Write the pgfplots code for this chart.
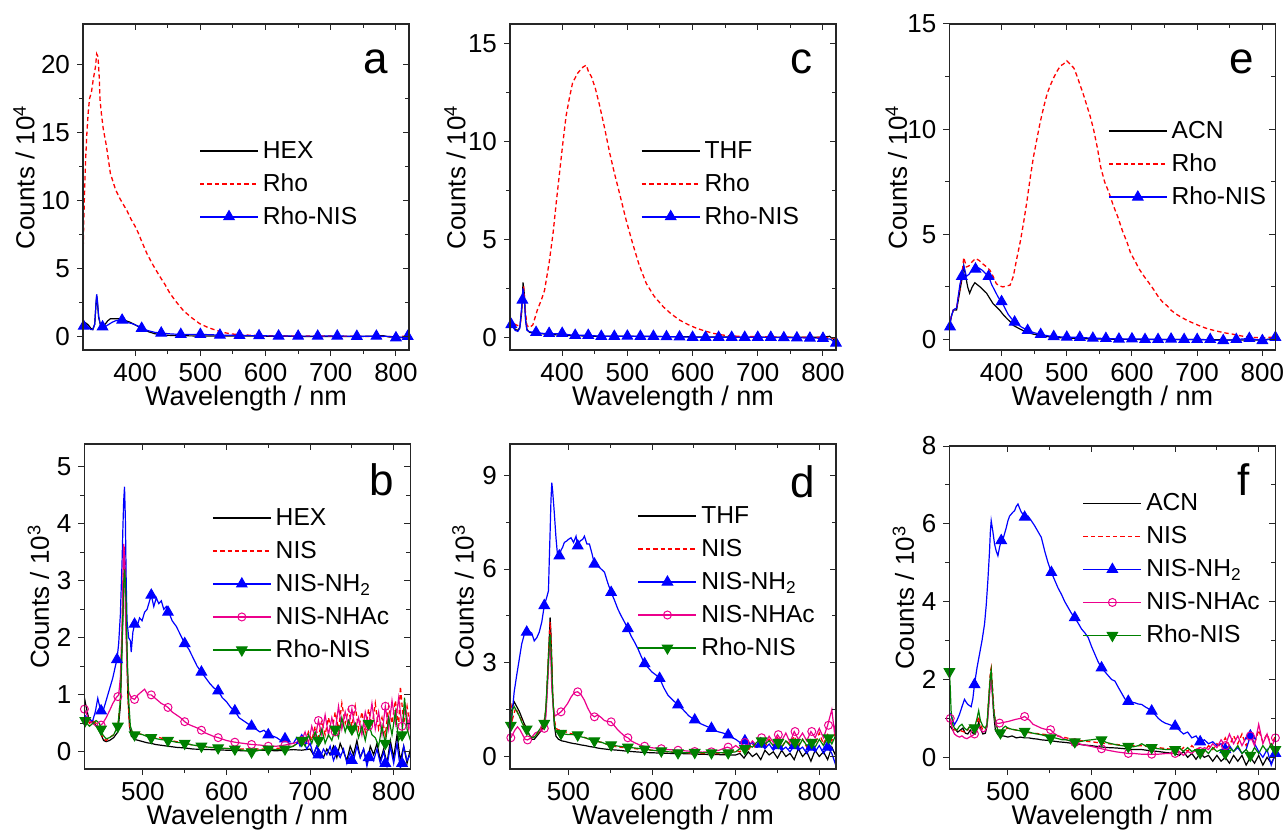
\documentclass[border=0pt]{standalone}
\usepackage{fontspec}
\setmainfont{Liberation Sans}
\usepackage{pgfplots}
\pgfplotsset{compat=1.18}
\definecolor{mygreen}{RGB}{0,128,0}
\pgfplotsset{
  base/.style={scale only axis, clip=true,
    axis line style={black!85, line width=0.6pt},
    tick style={black!85, line width=0.5pt},
    major tick length=3pt, minor tick length=2pt,
    tick align=outside, xtick pos=left, ytick pos=left,
    minor x tick num=1, minor y tick num=1,
    xtick={400,500,600,700,800},
    tick label style={font=\fontsize{13}{13}\selectfont},
    /pgf/number format/assume math mode=true,
    xlabel={Wavelength / nm},
    every axis x label/.style={at={(rel axis cs:0.5,0)}, anchor=center, yshift=-24.5pt, font=\fontsize{13.5}{13.5}\selectfont},
    legend cell align=left,
    legend style={draw=none, fill=none, inner sep=0pt, row sep=6pt,
      font=\fontsize{12.3}{12.3}\selectfont,
      nodes={inner xsep=2pt, inner ysep=0pt, text height=9pt}},
    legend image code/.code={\draw[mark repeat=2,mark phase=2,#1, line width=0.9pt] plot coordinates {(0pt,0pt) (14.5pt,0pt) (29pt,0pt)};},
  },
  mirror/.style={xticklabels={}, yticklabels={}, xlabel={}, ylabel={}, tick align=inside, xtick pos=right, ytick pos=right},
  ylab/.style 2 args={ylabel={#1}, every axis y label/.style={at={(rel axis cs:0,0.53)}, xshift=-#2, rotate=90, anchor=center, font=\fontsize{13}{13}\selectfont}},
  bl/.style={black, line width=0.6pt},
  rd/.style={red, line width=0.65pt, dash pattern=on 2.2pt off 1.5pt},
  bu/.style={blue, line width=0.6pt},
  ma/.style={magenta, line width=0.6pt},
  gr/.style={mygreen, line width=0.6pt},
  mbu/.style={blue, mark=triangle*, mark size=3pt, mark options={solid, fill=blue, line width=0.5pt}},
  mma/.style={magenta, mark=o, mark size=2pt, mark options={solid, fill=white, line width=0.5pt}},
  mgr/.style={mygreen, mark=triangle*, mark size=3pt, mark options={solid, rotate=180, fill=mygreen, line width=0.5pt}},
  pa/.style={at={(41.5pt,240.5pt)}, width=163pt, height=163pt, xmin=320, xmax=820, ymin=-1, ymax=23, ytick={0,5,10,15,20}, ylab={Counts / 10\textsuperscript{4}}{29.5pt}},
  pc/.style={at={(255pt,240.5pt)}, width=163pt, height=163pt, xmin=320, xmax=820, ymin=-0.65, ymax=16, ytick={0,5,10,15}, ylab={Counts / 10\textsuperscript{4}}{27.5pt}},
  pe/.style={at={(474.7pt,240.5pt)}, width=163pt, height=163pt, xmin=320, xmax=820, ymin=-0.5, ymax=15, ytick={0,5,10,15}, ylab={Counts / 10\textsuperscript{4}}{26.5pt}},
  pb/.style={at={(42.2pt,31pt)}, width=163pt, height=162.5pt, xmin=430, xmax=820, ymin=-0.3, ymax=5.4, ytick={0,1,2,3,4,5}, xtick={500,600,700,800}, ylab={Counts / 10\textsuperscript{3}}{23pt}},
  pd/.style={at={(255pt,31pt)}, width=163pt, height=162.5pt, xmin=430, xmax=820, ymin=-0.4, ymax=10, ytick={0,3,6,9}, xtick={500,600,700,800}, ylab={Counts / 10\textsuperscript{3}}{23.5pt}},
  pf/.style={at={(474.7pt,31pt)}, width=163pt, height=161.5pt, xmin=430, xmax=820, ymin=-0.3, ymax=8, ytick={0,2,4,6,8}, xtick={500,600,700,800}, ylab={Counts / 10\textsuperscript{3}}{23pt}},
}
\newcommand{\plabel}[3]{\node[anchor=base east, inner sep=0pt, font=\fontsize{22}{22}\selectfont] at (rel axis cs:#1,#2) {#3};}
\begin{document}
\begin{tikzpicture}
\useasboundingbox (0,0) rectangle (644pt,415.5pt);
% ---------------- a ----------------
\begin{axis}[base, pa, legend style={at={(rel axis cs:0.355,0.645)}, anchor=north west}]
\addlegendimage{bl}\addlegendentry{HEX}
\addlegendimage{rd}\addlegendentry{Rho}
\addlegendimage{bu, mbu}\addlegendentry{Rho-NIS}
\addplot[bl, forget plot] coordinates {(320,0.9)(324,1.0)(328,0.85)(332,0.6)(335,0.5)(338,0.9)(340,2.4)(341,3.0)(342,2.6)(344,1.4)(347,0.8)(350,0.75)(354,0.9)(358,1.15)(362,1.3)(368,1.3)(374,1.3)(380,1.25)(386,1.15)(392,1.05)(398,0.9)(404,0.75)(410,0.6)(420,0.35)(430,0.2)(440,0.12)(450,0.08)(470,0.05)(500,0.03)(550,0.02)(600,0.02)(650,0.0)(700,0.0)(750,0.0)(770,0.03)(780,0.06)(790,-0.05)(800,0.0)(810,-0.1)(820,-0.05)};
\addplot[rd, forget plot] coordinates {(320,5.5)(321,8)(322,10)(324,13)(326,15)(328,16.5)(330,17.5)(333,18)(336,19)(339,19.8)(341,20.8)(343,20.6)(345,19)(346,17.5)(348,16.5)(351,15.3)(356,14)(362,12)(370,10.8)(376,10.2)(382,9.7)(388,9.2)(394,8.6)(400,8.1)(405,7.6)(410,7.0)(418,6.1)(428,5.2)(438,4.4)(446,3.8)(453,3.2)(462,2.6)(474,1.9)(486,1.4)(499,0.94)(512,0.65)(525,0.44)(535,0.3)(545,0.2)(560,0.12)(580,0.08)(600,0.05)(650,0.03)(700,0.02)(750,0.0)(800,0.0)(820,0.02)};
\addplot[bu, forget plot] coordinates {(320,0.7)(324,0.9)(328,0.7)(332,0.5)(335,0.5)(338,0.9)(340,2.5)(341,3.1)(342,2.7)(344,1.5)(347,0.8)(350,0.7)(355,0.75)(360,0.9)(365,1.05)(370,1.15)(375,1.2)(380,1.2)(385,1.1)(390,1.0)(395,0.95)(400,0.85)(405,0.75)(410,0.6)(420,0.42)(430,0.3)(440,0.25)(455,0.18)(470,0.15)(500,0.15)(530,0.1)(560,0.07)(590,0.05)(620,0.03)(650,0.02)(680,0.02)(710,0.03)(740,0.01)(770,0.02)(790,0.0)(800,-0.1)(810,-0.05)(820,0.0)};
\addplot[only marks, mbu, forget plot] coordinates {(321,0.75)(350,0.7)(380,1.2)(410,0.6)(440,0.25)(470,0.15)(500,0.15)(530,0.1)(560,0.07)(590,0.05)(620,0.03)(650,0.02)(680,0.02)(710,0.03)(740,0.01)(770,0.02)(800,-0.1)(818,0.0)};
\plabel{0.936}{0.847}{a}
\end{axis}
\begin{axis}[base, pa, mirror]\end{axis}
% ---------------- c ----------------
\begin{axis}[base, pc, legend style={at={(rel axis cs:0.400,0.645)}, anchor=north west}]
\addlegendimage{bl}\addlegendentry{THF}
\addlegendimage{rd}\addlegendentry{Rho}
\addlegendimage{bu, mbu}\addlegendentry{Rho-NIS}
\addplot[bl, forget plot] coordinates {(320,0.8)(324,0.65)(328,0.4)(332,0.35)(335,0.5)(338,1.3)(340,2.8)(342,2.2)(344,0.9)(346,0.4)(350,0.25)(360,0.2)(380,0.15)(400,0.1)(450,0.05)(500,0.05)(600,0.02)(700,0.0)(760,0.0)(800,0.0)(810,0.05)(816,-0.1)(820,-0.3)};
\addplot[rd, forget plot] coordinates {(320,1.0)(324,0.8)(328,0.65)(332,0.6)(336,0.7)(339,2.0)(341,2.6)(343,1.5)(346,0.6)(350,0.5)(355,0.63)(362,1.4)(368,1.9)(373,2.4)(380,3.8)(386,5.3)(391,6.9)(396,8.4)(401,9.9)(406,11.3)(411,12.2)(416,13.0)(424,13.5)(432,13.8)(437,13.9)(440,13.6)(445,13.3)(451,12.7)(457,11.9)(465,10.7)(473,9.4)(480,8.4)(488,7.35)(498,6.0)(508,4.8)(518,3.7)(529,2.75)(541,2.1)(555,1.56)(567,1.2)(580,0.88)(593,0.65)(606,0.46)(619,0.32)(632,0.2)(645,0.12)(657,0.07)(680,0.04)(720,0.02)(760,0.0)(800,0.0)(820,-0.05)};
\addplot[bu, forget plot] coordinates {(320,0.7)(324,0.55)(328,0.35)(332,0.3)(335,0.45)(338,1.6)(340,2.5)(342,1.9)(344,0.8)(346,0.35)(350,0.28)(360,0.25)(370,0.2)(380,0.2)(390,0.18)(400,0.2)(410,0.13)(420,0.1)(440,0.1)(460,0.05)(480,0.05)(500,0.06)(520,0.05)(540,0.05)(560,0.03)(580,0.02)(600,0.0)(650,0.0)(700,0.0)(750,-0.02)(800,-0.05)(812,-0.1)(820,-0.35)};
\addplot[only marks, mbu, forget plot] coordinates {(322,0.65)(339,1.9)(360,0.25)(380,0.2)(400,0.2)(420,0.1)(440,0.1)(460,0.05)(480,0.05)(500,0.06)(520,0.05)(540,0.05)(560,0.03)(580,0.02)(600,0.0)(620,0.0)(640,0.0)(660,0.0)(680,0.0)(700,0.0)(720,0.0)(740,-0.02)(760,-0.03)(780,-0.04)(800,-0.05)(820,-0.3)};
\plabel{0.930}{0.849}{c}
\end{axis}
\begin{axis}[base, pc, mirror]\end{axis}
% ---------------- e ----------------
\begin{axis}[base, pe, legend style={at={(rel axis cs:0.485,0.705)}, anchor=north west}]
\addlegendimage{bl}\addlegendentry{ACN}
\addlegendimage{rd}\addlegendentry{Rho}
\addlegendimage{bu, mbu}\addlegendentry{Rho-NIS}
\addplot[bl, forget plot] coordinates {(320,0.6)(323,1.1)(326,1.4)(331,1.4)(336,2.3)(340,3.0)(342,3.5)(345,3.0)(348,2.5)(351,2.2)(355,2.5)(359,2.7)(363,2.6)(367,2.5)(372,2.35)(377,2.2)(382,1.95)(387,1.7)(392,1.55)(397,1.4)(402,1.2)(408,1.0)(413,0.85)(418,0.67)(428,0.5)(438,0.35)(448,0.26)(459,0.19)(475,0.12)(490,0.08)(520,0.04)(560,0.02)(600,0.0)(700,0.0)(760,-0.03)(800,-0.02)(820,0.05)};
\addplot[rd, forget plot] coordinates {(320,0.6)(323,1.1)(326,1.4)(331,1.5)(336,2.4)(340,3.3)(342,3.9)(346,3.45)(350,3.5)(355,3.7)(360,3.85)(366,3.75)(371,3.6)(377,3.45)(382,3.3)(387,3.0)(392,2.65)(397,2.55)(402,2.5)(408,2.55)(413,2.58)(418,3.0)(423,3.8)(429,4.7)(434,5.6)(439,6.6)(444,7.7)(449,8.7)(454,9.5)(459,10.3)(465,11.1)(470,11.7)(475,12.1)(480,12.45)(485,12.75)(490,13.0)(495,13.1)(500,13.25)(505,13.1)(511,12.9)(516,12.5)(521,12.05)(526,11.6)(531,11.1)(536,10.6)(541,10.0)(547,9.1)(552,8.2)(558,7.5)(565,6.96)(571,6.4)(578,5.85)(585,5.2)(593,4.57)(598,4.1)(604,3.77)(611,3.35)(619,2.98)(627,2.65)(634,2.34)(641,2.0)(647,1.78)(654,1.6)(660,1.39)(668,1.2)(675,1.07)(685,0.9)(696,0.75)(706,0.62)(716,0.51)(727,0.42)(737,0.35)(745,0.3)(752,0.27)(762,0.2)(773,0.14)(785,0.1)(799,0.08)(810,0.1)(820,0.1)};
\addplot[bu, forget plot] coordinates {(320,0.6)(323,1.1)(326,1.4)(331,1.5)(336,2.6)(339,3.0)(342,3.5)(346,3.0)(350,3.1)(355,3.3)(360,3.35)(365,3.4)(370,3.3)(375,3.15)(380,3.0)(385,2.6)(390,2.3)(395,2.0)(400,1.8)(405,1.5)(410,1.2)(415,1.0)(420,0.83)(430,0.6)(440,0.43)(450,0.32)(460,0.24)(470,0.18)(480,0.14)(500,0.11)(520,0.1)(540,0.06)(560,0.05)(580,0.02)(600,0.03)(650,0.0)(700,0.0)(740,-0.05)(760,0.0)(780,0.05)(800,-0.05)(810,0.0)(820,0.15)};
\addplot[only marks, mbu, forget plot] coordinates {(321,0.6)(339,3.0)(360,3.35)(380,3.0)(400,1.8)(420,0.83)(440,0.43)(460,0.24)(480,0.14)(500,0.11)(520,0.1)(540,0.06)(560,0.05)(580,0.02)(600,0.03)(620,0.0)(640,0.0)(660,0.02)(680,0.0)(700,0.0)(720,0.0)(740,-0.05)(760,0.0)(780,0.05)(800,-0.05)(820,0.1)};
\plabel{0.935}{0.849}{e}
\end{axis}
\begin{axis}[base, pe, mirror]\end{axis}
% ---------------- b ----------------
\begin{axis}[base, pb, legend style={at={(rel axis cs:0.39,0.806)}, anchor=north west}]
\addlegendimage{bl}\addlegendentry{HEX}
\addlegendimage{rd}\addlegendentry{NIS}
\addlegendimage{bu, mbu}\addlegendentry{NIS-NH\textsubscript{2}}
\addlegendimage{ma, mma}\addlegendentry{NIS-NHAc}
\addlegendimage{gr, mgr}\addlegendentry{Rho-NIS}
\addplot[bl, forget plot] coordinates {(430,0.95)(432,0.8)(435,0.6)(438,0.55)(441,0.5)(445,0.45)(450,0.3)(453,0.2)(456,0.18)(460,0.2)(465,0.25)(470,0.35)(473,0.8)(475,1.8)(477,2.9)(478,3.3)(479,3.0)(480,2.3)(482,1.0)(484,0.45)(486,0.28)(490,0.22)(495,0.2)(500,0.18)(505,0.16)(510,0.15)(515,0.13)(520,0.12)(530,0.1)(540,0.08)(550,0.07)(560,0.05)(580,0.04)(600,0.03)(620,0.02)(640,0.03)(660,0.02)(680,0.04)(690,0.03)(700,0.05)(704,-0.05)(708,0.1)(712,0.0)(716,-0.1)(720,0.05)(724,-0.05)(728,0.1)(732,-0.1)(736,0.15)(740,0.0)(744,-0.15)(748,0.1)(752,-0.05)(756,0.2)(760,-0.1)(764,0.05)(768,-0.2)(772,0.1)(776,-0.05)(780,0.15)(784,-0.15)(788,0.05)(792,-0.2)(796,0.2)(800,-0.1)(804,0.3)(808,-0.15)(812,0.1)(816,-0.2)(820,0.05)};
\addplot[rd, forget plot] coordinates {(430,0.55)(433,0.6)(436,0.5)(440,0.55)(444,0.5)(448,0.4)(452,0.25)(456,0.2)(460,0.25)(465,0.3)(470,0.45)(473,0.9)(475,2.0)(477,3.3)(478,3.6)(479,3.2)(480,2.2)(482,1.0)(484,0.45)(487,0.35)(490,0.33)(495,0.32)(500,0.3)(510,0.27)(520,0.25)(530,0.21)(540,0.18)(550,0.15)(560,0.12)(570,0.1)(580,0.08)(600,0.06)(620,0.05)(640,0.05)(660,0.06)(680,0.1)(690,0.25)(694,0.15)(698,0.35)(702,0.2)(706,0.45)(710,0.25)(714,0.55)(718,0.3)(722,0.6)(726,0.35)(730,0.7)(734,0.4)(738,0.85)(742,0.5)(746,0.75)(750,0.45)(754,0.8)(758,0.4)(762,0.7)(766,0.35)(770,0.75)(774,0.45)(778,0.85)(782,0.4)(786,0.6)(790,0.3)(794,0.8)(798,0.5)(802,0.9)(806,0.45)(808,1.15)(812,0.5)(816,0.8)(820,0.4)};
\addplot[bu, forget plot] coordinates {(430,0.65)(433,0.6)(436,0.55)(440,0.55)(443,0.7)(446,0.94)(449,0.75)(452,0.7)(455,0.85)(458,1.0)(461,1.15)(464,1.3)(467,1.5)(469,1.62)(471,1.9)(473,2.4)(475,3.3)(476,3.9)(477,4.4)(478,4.65)(479,4.1)(480,3.0)(481,2.3)(483,2.0)(485,1.95)(486,1.75)(488,2.1)(490,2.24)(493,2.2)(496,2.35)(499,2.3)(502,2.45)(505,2.5)(507,2.6)(510,2.75)(513,2.55)(516,2.7)(519,2.6)(522,2.65)(525,2.5)(528,2.55)(531,2.45)(535,2.3)(540,2.2)(545,2.05)(550,1.9)(555,1.8)(560,1.65)(565,1.5)(570,1.4)(575,1.3)(580,1.2)(585,1.12)(590,1.07)(595,0.95)(600,0.88)(605,0.78)(610,0.72)(615,0.6)(620,0.55)(625,0.5)(630,0.45)(635,0.4)(640,0.35)(645,0.38)(650,0.3)(655,0.28)(660,0.25)(665,0.2)(670,0.23)(675,0.15)(680,0.15)(684,0.25)(688,0.1)(692,0.2)(696,0.05)(700,0.15)(704,-0.05)(708,0.1)(712,-0.1)(716,0.05)(720,-0.05)(724,0.1)(728,-0.15)(732,0.0)(736,-0.1)(740,0.05)(744,-0.2)(748,0.0)(752,-0.15)(756,0.1)(760,-0.1)(764,0.05)(768,-0.25)(772,0.0)(776,-0.15)(780,0.05)(784,-0.2)(788,0.0)(792,-0.25)(796,0.1)(800,-0.2)(804,0.15)(808,-0.3)(812,0.1)(816,-0.15)(820,-0.05)};
\addplot[only marks, mbu, forget plot] coordinates {(450,0.72)(469,1.62)(490,2.24)(510,2.75)(530,2.45)(550,1.9)(570,1.4)(590,1.07)(610,0.72)(630,0.45)(650,0.3)(670,0.23)(690,0.2)(710,-0.05)(730,0.0)(750,-0.15)(770,-0.1)(790,-0.2)(810,-0.2)};
\addplot[ma, forget plot] coordinates {(430,0.75)(433,0.65)(436,0.55)(440,0.5)(444,0.45)(448,0.45)(452,0.5)(456,0.6)(460,0.72)(464,0.85)(468,0.95)(471,1.0)(473,1.3)(475,2.2)(476,3.0)(477,3.65)(478,3.4)(479,2.5)(481,1.5)(483,1.05)(486,0.95)(490,0.92)(494,1.0)(498,1.05)(502,1.1)(506,1.0)(510,1.0)(514,0.95)(518,0.9)(522,0.85)(526,0.82)(530,0.78)(535,0.7)(540,0.65)(545,0.6)(550,0.53)(555,0.48)(560,0.45)(565,0.42)(570,0.38)(575,0.33)(580,0.3)(585,0.27)(590,0.25)(600,0.2)(610,0.17)(620,0.15)(630,0.13)(640,0.12)(650,0.1)(660,0.1)(670,0.12)(680,0.15)(690,0.2)(694,0.35)(698,0.15)(702,0.45)(706,0.25)(710,0.55)(714,0.3)(718,0.65)(722,0.3)(726,0.6)(730,0.35)(734,0.8)(738,0.4)(742,0.7)(746,0.45)(750,0.75)(754,0.4)(758,0.6)(762,0.3)(766,0.7)(770,0.45)(774,0.85)(778,0.4)(782,0.7)(786,0.3)(790,0.8)(794,0.4)(798,0.9)(802,0.5)(806,0.95)(810,0.45)(814,0.8)(818,0.4)(820,0.7)};
\addplot[only marks, mma, forget plot] coordinates {(430,0.75)(450,0.47)(470,0.97)(490,0.92)(510,1.0)(530,0.78)(550,0.53)(570,0.38)(590,0.25)(610,0.17)(630,0.13)(650,0.1)(670,0.12)(690,0.2)(710,0.55)(730,0.35)(750,0.75)(770,0.45)(790,0.8)(810,0.45)};
\addplot[gr, forget plot] coordinates {(430,0.55)(433,0.5)(436,0.45)(440,0.5)(444,0.55)(448,0.5)(452,0.3)(456,0.23)(460,0.25)(465,0.3)(470,0.45)(473,0.9)(475,1.9)(477,2.9)(478,3.2)(479,3.0)(480,2.6)(481,1.8)(483,0.9)(485,0.45)(488,0.32)(490,0.3)(495,0.32)(500,0.3)(505,0.27)(510,0.25)(520,0.22)(530,0.2)(540,0.17)(550,0.15)(560,0.12)(570,0.1)(580,0.08)(590,0.07)(600,0.06)(610,0.05)(620,0.03)(630,0.0)(640,0.03)(650,0.05)(660,0.04)(670,0.05)(680,0.1)(690,0.2)(694,0.1)(698,0.3)(702,0.15)(706,0.35)(710,0.2)(714,0.4)(718,0.15)(722,0.3)(726,0.2)(730,0.4)(734,0.25)(738,0.6)(742,0.35)(746,0.55)(750,0.4)(754,0.5)(758,0.25)(762,0.45)(766,0.2)(770,0.5)(774,0.3)(778,0.25)(782,0.1)(786,0.45)(790,0.15)(794,0.6)(798,0.3)(802,0.7)(806,0.2)(810,0.3)(813,0.95)(816,0.4)(820,0.2)};
\addplot[only marks, mgr, forget plot] coordinates {(431,0.55)(450,0.4)(470,0.45)(490,0.3)(510,0.25)(530,0.2)(550,0.15)(570,0.1)(590,0.07)(610,0.05)(630,0.0)(650,0.05)(670,0.05)(690,0.2)(710,0.2)(730,0.4)(750,0.4)(770,0.5)(790,0.15)(810,0.3)};
\plabel{0.952}{0.843}{b}
\end{axis}
\begin{axis}[base, pb, mirror]\end{axis}
% ---------------- d ----------------
\begin{axis}[base, pd, legend style={at={(rel axis cs:0.39,0.812)}, anchor=north west}]
\addlegendimage{bl}\addlegendentry{THF}
\addlegendimage{rd}\addlegendentry{NIS}
\addlegendimage{bu, mbu}\addlegendentry{NIS-NH\textsubscript{2}}
\addlegendimage{ma, mma}\addlegendentry{NIS-NHAc}
\addlegendimage{gr, mgr}\addlegendentry{Rho-NIS}
\addplot[bl, forget plot] coordinates {(431,1.3)(433,1.6)(435,1.75)(438,1.6)(441,1.45)(444,1.25)(447,1.05)(450,0.9)(453,0.7)(456,0.55)(459,0.55)(462,0.65)(465,0.75)(468,0.85)(471,1.0)(473,1.5)(475,2.6)(477,3.8)(478,4.45)(479,3.9)(480,3.0)(481,2.0)(483,1.0)(485,0.65)(488,0.55)(492,0.5)(496,0.48)(500,0.45)(505,0.42)(510,0.4)(515,0.37)(520,0.35)(525,0.32)(530,0.3)(535,0.27)(540,0.25)(550,0.22)(560,0.2)(570,0.17)(580,0.15)(590,0.13)(600,0.12)(620,0.1)(640,0.09)(660,0.07)(680,0.06)(690,0.05)(700,0.05)(705,0.1)(710,-0.05)(715,0.15)(720,0.0)(725,0.1)(730,-0.1)(735,0.2)(740,0.05)(745,0.15)(750,-0.05)(755,0.2)(760,0.0)(765,0.1)(770,-0.1)(775,0.25)(780,0.0)(785,0.15)(790,-0.15)(795,0.2)(800,0.0)(805,0.15)(810,-0.1)(815,0.3)(820,0.0)};
\addplot[rd, forget plot] coordinates {(431,1.7)(433,1.2)(435,1.4)(437,1.55)(440,1.35)(444,1.15)(448,0.9)(452,0.7)(456,0.6)(460,0.65)(465,0.8)(470,1.0)(473,1.5)(475,2.6)(477,3.8)(478,4.3)(479,3.8)(480,3.0)(481,2.0)(483,1.2)(485,0.9)(488,0.85)(492,0.85)(496,0.8)(500,0.75)(505,0.72)(510,0.7)(515,0.65)(520,0.6)(525,0.55)(530,0.5)(535,0.48)(540,0.45)(545,0.4)(550,0.35)(560,0.3)(570,0.28)(580,0.25)(590,0.22)(600,0.2)(620,0.15)(640,0.12)(660,0.1)(680,0.1)(690,0.12)(700,0.2)(705,0.15)(710,0.3)(715,0.2)(720,0.4)(725,0.25)(730,0.5)(735,0.3)(740,0.55)(745,0.35)(750,0.6)(755,0.3)(760,0.5)(765,0.4)(770,0.65)(775,0.35)(780,0.55)(785,0.3)(790,0.6)(795,0.4)(800,0.75)(805,0.4)(810,0.7)(815,0.5)(820,0.8)};
\addplot[bu, forget plot] coordinates {(431,1.0)(433,1.5)(435,2.07)(438,2.6)(441,3.1)(444,3.6)(447,3.9)(450,3.98)(453,4.0)(456,3.95)(459,3.7)(462,3.8)(465,3.98)(468,4.3)(471,4.83)(474,5.1)(476,5.3)(477,6.3)(478,7.2)(479,8.2)(480,8.76)(481,8.5)(483,7.8)(485,7.0)(487,6.4)(489,6.42)(491,6.6)(493,6.7)(495,6.85)(498,6.9)(500,6.95)(503,7.0)(506,6.85)(509,7.05)(511,6.74)(514,6.9)(517,6.95)(519,7.05)(522,6.8)(525,6.8)(528,6.5)(531,6.16)(535,6.1)(539,6.0)(543,5.9)(547,5.55)(551,5.25)(555,5.0)(559,4.72)(563,4.5)(567,4.3)(571,4.09)(575,3.85)(579,3.66)(583,3.45)(587,3.2)(591,2.97)(595,2.85)(600,2.7)(605,2.6)(609,2.5)(614,2.2)(619,1.96)(625,1.8)(631,1.65)(637,1.5)(644,1.3)(651,1.17)(658,1.05)(664,0.98)(671,0.9)(678,0.8)(685,0.75)(691,0.69)(696,0.6)(700,0.55)(705,0.45)(710,0.5)(715,0.35)(720,0.45)(725,0.3)(730,0.4)(735,0.25)(740,0.4)(745,0.2)(750,0.35)(755,0.2)(760,0.3)(765,0.15)(770,0.35)(775,0.2)(780,0.3)(785,0.1)(790,0.3)(795,0.15)(800,0.35)(805,0.1)(810,0.3)(815,0.1)(820,-0.3)};
\addplot[only marks, mbu, forget plot] coordinates {(450,3.98)(471,4.83)(489,6.42)(511,6.74)(531,6.16)(551,5.25)(571,4.09)(591,2.97)(609,2.5)(631,1.65)(651,1.17)(671,0.9)(691,0.69)(711,0.5)(730,0.4)(750,0.35)(770,0.35)(790,0.3)(810,0.3)};
\addplot[ma, forget plot] coordinates {(431,0.6)(433,0.7)(436,0.85)(439,0.95)(442,0.85)(445,0.7)(448,0.55)(451,0.53)(454,0.58)(457,0.65)(460,0.75)(464,0.8)(467,0.82)(471,0.9)(473,1.3)(475,2.3)(477,3.4)(478,3.6)(479,3.0)(480,2.2)(482,1.5)(484,1.3)(487,1.35)(491,1.43)(495,1.55)(499,1.7)(503,1.9)(507,2.05)(511,2.07)(515,1.98)(519,1.8)(523,1.55)(527,1.35)(531,1.27)(535,1.33)(539,1.25)(543,1.15)(547,1.12)(551,1.11)(555,0.98)(559,0.85)(563,0.75)(567,0.65)(571,0.6)(575,0.5)(580,0.43)(585,0.37)(590,0.33)(595,0.3)(600,0.28)(610,0.25)(620,0.22)(630,0.2)(640,0.18)(650,0.16)(660,0.14)(670,0.15)(680,0.2)(690,0.3)(695,0.25)(700,0.35)(705,0.25)(710,0.45)(715,0.3)(720,0.5)(725,0.35)(730,0.6)(735,0.4)(740,0.65)(745,0.45)(750,0.7)(755,0.5)(760,0.75)(765,0.45)(770,0.8)(775,0.55)(780,0.75)(785,0.5)(790,0.8)(795,0.6)(800,0.9)(805,0.6)(810,1.0)(815,1.5)(818,0.8)(820,1.1)};
\addplot[only marks, mma, forget plot] coordinates {(431,0.6)(451,0.53)(471,0.9)(491,1.43)(511,2.07)(531,1.27)(551,1.11)(571,0.6)(591,0.33)(611,0.25)(631,0.2)(651,0.16)(671,0.15)(691,0.3)(711,0.45)(731,0.6)(751,0.7)(771,0.8)(791,0.8)(811,1.0)};
\addplot[gr, forget plot] coordinates {(431,1.0)(433,1.5)(435,1.6)(438,1.45)(441,1.3)(444,1.1)(447,0.95)(450,0.88)(453,0.7)(456,0.6)(459,0.62)(462,0.72)(465,0.85)(468,0.95)(471,1.06)(473,1.6)(475,2.6)(477,3.6)(478,3.9)(479,3.5)(480,2.8)(481,2.0)(483,1.1)(485,0.8)(488,0.75)(491,0.74)(495,0.72)(500,0.7)(505,0.7)(511,0.69)(515,0.63)(520,0.6)(525,0.55)(531,0.5)(535,0.48)(540,0.45)(545,0.4)(551,0.37)(560,0.33)(570,0.3)(580,0.27)(591,0.24)(600,0.2)(611,0.18)(620,0.15)(631,0.12)(640,0.12)(651,0.13)(660,0.12)(671,0.12)(680,0.12)(691,0.12)(700,0.15)(705,0.25)(710,0.2)(715,0.35)(720,0.3)(725,0.45)(730,0.55)(735,0.4)(740,0.5)(745,0.35)(750,0.45)(755,0.3)(760,0.5)(765,0.35)(770,0.45)(775,0.3)(780,0.55)(785,0.35)(790,0.45)(795,0.3)(800,0.55)(805,0.35)(810,0.6)(815,0.4)(820,0.7)};
\addplot[only marks, mgr, forget plot] coordinates {(431,1.0)(450,0.88)(471,1.06)(491,0.74)(511,0.69)(531,0.5)(551,0.37)(571,0.3)(591,0.24)(611,0.18)(631,0.12)(651,0.13)(671,0.12)(691,0.12)(711,0.25)(731,0.5)(751,0.45)(771,0.45)(791,0.45)(811,0.6)};
\plabel{0.9376}{0.835}{d}
\end{axis}
\begin{axis}[base, pd, mirror]\end{axis}
% ---------------- f ----------------
\begin{axis}[base, pf, legend style={at={(rel axis cs:0.407,0.856)}, anchor=north west}]
\addlegendimage{bl}\addlegendentry{ACN}
\addlegendimage{rd}\addlegendentry{NIS}
\addlegendimage{bu, mbu}\addlegendentry{NIS-NH\textsubscript{2}}
\addlegendimage{ma, mma}\addlegendentry{NIS-NHAc}
\addlegendimage{gr, mgr}\addlegendentry{Rho-NIS}
\addplot[bl, forget plot] coordinates {(431,0.8)(434,0.7)(437,0.72)(440,0.65)(443,0.7)(446,0.75)(449,0.62)(452,0.6)(455,0.7)(458,0.62)(461,0.6)(463,0.75)(465,0.9)(467,0.75)(470,0.6)(473,0.62)(475,0.8)(477,1.4)(479,2.0)(480,2.1)(481,1.8)(483,1.1)(485,0.7)(488,0.58)(491,0.55)(495,0.55)(500,0.52)(505,0.55)(510,0.5)(515,0.52)(520,0.5)(525,0.5)(530,0.48)(535,0.47)(540,0.45)(550,0.43)(560,0.4)(570,0.38)(580,0.35)(590,0.32)(600,0.3)(610,0.27)(620,0.25)(630,0.24)(640,0.22)(650,0.2)(660,0.2)(670,0.17)(680,0.15)(690,0.12)(700,0.1)(705,0.05)(710,0.15)(715,0.0)(720,0.1)(725,-0.05)(730,0.1)(735,0.0)(740,0.05)(745,-0.1)(750,0.05)(755,-0.1)(760,0.0)(765,-0.15)(770,0.05)(775,-0.1)(780,0.05)(785,-0.2)(790,0.0)(795,-0.15)(800,0.05)(805,-0.2)(810,0.0)(815,-0.15)(820,0.05)};
\addplot[rd, forget plot] coordinates {(431,0.9)(434,0.75)(437,0.7)(440,0.7)(444,0.68)(448,0.65)(452,0.7)(455,0.85)(458,0.75)(461,0.72)(463,0.9)(465,1.05)(467,0.85)(470,0.7)(473,0.72)(475,0.85)(477,1.5)(479,2.2)(480,2.3)(481,2.0)(483,1.3)(485,0.9)(488,0.72)(491,0.68)(495,0.72)(500,0.75)(505,0.72)(510,0.7)(520,0.65)(530,0.62)(540,0.6)(550,0.57)(560,0.55)(570,0.5)(580,0.45)(590,0.42)(600,0.4)(610,0.37)(620,0.35)(630,0.33)(640,0.3)(650,0.3)(660,0.3)(670,0.27)(680,0.25)(690,0.22)(700,0.2)(705,0.15)(710,0.25)(715,0.15)(720,0.3)(725,0.2)(730,0.25)(735,0.15)(740,0.3)(745,0.2)(750,0.35)(755,0.25)(760,0.5)(765,0.3)(770,0.55)(775,0.35)(780,0.6)(785,0.3)(790,0.55)(795,0.35)(800,0.7)(805,0.4)(810,0.6)(815,0.3)(820,0.55)};
\addplot[bu, forget plot] coordinates {(431,1.14)(434,0.95)(436,0.84)(439,0.95)(442,1.1)(445,1.3)(448,1.49)(450,1.42)(452,1.36)(456,1.3)(458,1.5)(460,1.87)(463,2.3)(466,2.65)(469,3.0)(472,3.42)(474,3.9)(476,4.54)(478,5.3)(479,5.8)(480,6.08)(482,5.8)(484,5.48)(486,5.3)(488,5.18)(490,5.4)(492,5.57)(494,5.6)(496,5.75)(498,5.9)(500,6.08)(502,6.2)(504,6.25)(506,6.3)(508,6.34)(510,6.45)(512,6.51)(514,6.4)(516,6.3)(518,6.25)(520,6.17)(524,6.2)(528,6.08)(532,5.95)(536,5.8)(540,5.65)(544,5.3)(548,5.0)(552,4.75)(556,4.55)(560,4.35)(564,4.19)(568,4.0)(572,3.85)(576,3.7)(580,3.59)(584,3.45)(588,3.3)(592,3.2)(596,3.08)(600,2.85)(604,2.65)(608,2.45)(612,2.3)(616,2.2)(620,2.1)(624,2.0)(628,1.96)(632,1.8)(636,1.65)(640,1.5)(644,1.44)(648,1.42)(652,1.4)(656,1.37)(660,1.36)(664,1.3)(668,1.25)(672,1.19)(676,1.1)(680,1.0)(684,0.93)(688,0.88)(692,0.85)(696,0.82)(700,0.8)(705,0.7)(710,0.6)(715,0.65)(720,0.5)(725,0.55)(730,0.4)(735,0.45)(740,0.35)(745,0.4)(750,0.3)(755,0.35)(760,0.2)(765,0.3)(770,0.15)(775,0.25)(780,0.1)(785,0.2)(790,0.55)(795,0.35)(800,0.15)(805,0.0)(810,0.2)(815,-0.2)(820,0.1)};
\addplot[only marks, mbu, forget plot] coordinates {(460,1.87)(492,5.57)(520,6.17)(552,4.75)(580,3.59)(612,2.3)(644,1.44)(672,1.19)(700,0.8)(730,0.4)(760,0.2)(790,0.55)(820,0.1)};
\addplot[ma, forget plot] coordinates {(431,1.0)(434,0.7)(436,0.6)(439,0.55)(442,0.52)(445,0.55)(448,0.5)(451,0.48)(454,0.52)(457,0.55)(460,0.6)(463,0.7)(465,0.8)(467,0.72)(470,0.65)(473,0.68)(475,0.8)(477,1.3)(479,1.9)(480,2.0)(481,1.7)(483,1.2)(485,0.9)(488,0.87)(491,0.88)(495,0.9)(500,0.92)(505,0.95)(510,0.98)(515,1.0)(520,1.05)(523,1.0)(526,0.95)(530,0.85)(535,0.8)(540,0.75)(545,0.72)(551,0.71)(555,0.62)(560,0.55)(565,0.5)(570,0.45)(575,0.42)(580,0.38)(590,0.32)(600,0.28)(612,0.22)(620,0.18)(630,0.14)(644,0.1)(650,0.1)(660,0.08)(672,0.08)(680,0.08)(690,0.1)(700,0.1)(705,0.15)(710,0.05)(715,0.15)(720,0.1)(725,0.2)(730,0.15)(735,0.25)(740,0.2)(745,0.35)(750,0.25)(755,0.45)(760,0.3)(765,0.6)(770,0.35)(775,0.55)(780,0.3)(785,0.5)(790,0.55)(795,0.3)(800,0.85)(805,0.35)(810,0.6)(815,0.25)(820,0.5)};
\addplot[only marks, mma, forget plot] coordinates {(431,1.0)(460,0.6)(490,0.88)(520,1.05)(551,0.71)(580,0.38)(612,0.22)(644,0.1)(672,0.08)(700,0.1)(730,0.15)(760,0.3)(790,0.55)(820,0.5)};
\addplot[gr, forget plot] coordinates {(430,2.2)(431,1.8)(432,1.2)(434,0.85)(436,0.75)(439,0.7)(442,0.8)(445,0.85)(448,0.75)(451,0.7)(454,0.78)(457,0.75)(460,0.76)(463,1.0)(465,1.2)(467,0.95)(470,0.8)(473,0.75)(475,0.85)(477,1.5)(479,2.1)(480,2.25)(481,1.9)(483,1.2)(485,0.9)(488,0.7)(491,0.63)(494,0.75)(497,0.8)(500,0.75)(505,0.72)(510,0.7)(515,0.68)(520,0.67)(525,0.65)(530,0.62)(535,0.6)(540,0.58)(545,0.55)(551,0.5)(556,0.5)(560,0.48)(565,0.45)(570,0.45)(575,0.42)(580,0.4)(585,0.4)(590,0.42)(595,0.44)(600,0.45)(606,0.47)(612,0.45)(618,0.38)(624,0.35)(630,0.32)(636,0.3)(644,0.28)(650,0.27)(656,0.3)(660,0.35)(666,0.28)(672,0.25)(680,0.22)(690,0.2)(700,0.2)(705,0.25)(710,0.15)(715,0.25)(720,0.15)(725,0.2)(730,0.12)(735,0.2)(740,0.1)(745,0.25)(750,0.15)(755,0.2)(760,0.1)(765,0.25)(770,0.15)(775,0.3)(780,0.1)(785,0.2)(790,0.05)(795,0.25)(800,0.1)(805,0.3)(810,0.15)(815,0.35)(820,0.2)};
\addplot[only marks, mgr, forget plot] coordinates {(430,2.2)(460,0.76)(491,0.63)(520,0.67)(551,0.5)(580,0.4)(612,0.45)(644,0.28)(672,0.25)(700,0.2)(730,0.12)(760,0.1)(790,0.05)(820,0.2)};
\plabel{0.921}{0.847}{f}
\end{axis}
\begin{axis}[base, pf, mirror]\end{axis}
\end{tikzpicture}
\end{document}
